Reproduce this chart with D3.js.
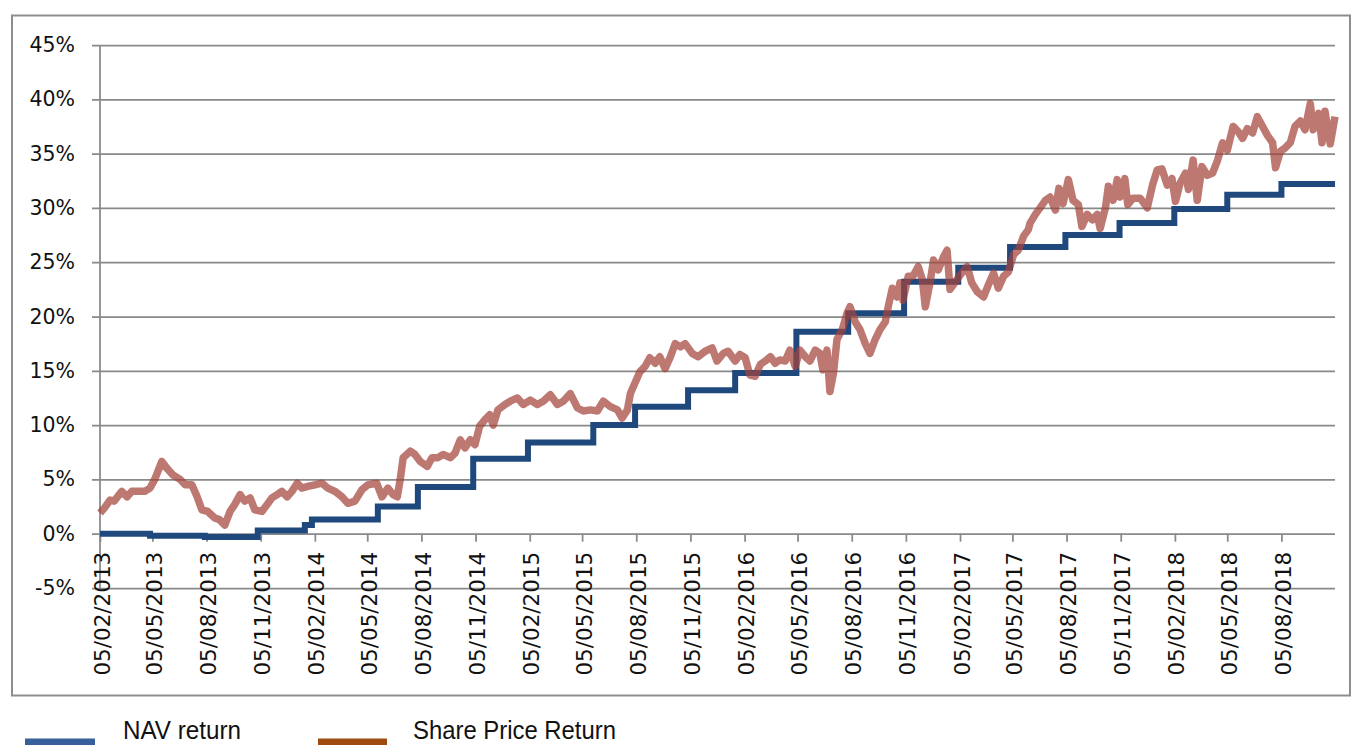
<!DOCTYPE html>
<html>
<head>
<meta charset="utf-8">
<script src="https://cdn.jsdelivr.net/npm/d3@7"></script>
<style>
  html, body { margin: 0; padding: 0; background: #fff; }
  svg { display: block; }
</style>
</head>
<body>
<svg id="chart" width="1352" height="745"></svg>
<script>
// ---------- DATA ----------
const yTickValues = [-5, 0, 5, 10, 15, 20, 25, 30, 35, 40, 45];

const xTickDates = [
  "2013-02-05","2013-05-05","2013-08-05","2013-11-05",
  "2014-02-05","2014-05-05","2014-08-05","2014-11-05",
  "2015-02-05","2015-05-05","2015-08-05","2015-11-05",
  "2016-02-05","2016-05-05","2016-08-05","2016-11-05",
  "2017-02-05","2017-05-05","2017-08-05","2017-11-05",
  "2018-02-05","2018-05-05","2018-08-05"
];

const seriesNames = ["NAV return", "Share Price Return"];

const navDates = [
  "2013-02-05","2013-05-01","2013-08-02","2013-10-31","2014-01-19","2014-01-31",
  "2014-05-23","2014-07-30","2014-11-01","2015-02-02","2015-05-24","2015-08-03",
  "2015-11-01","2016-01-20","2016-05-03","2016-07-30","2016-11-02","2017-02-02",
  "2017-05-01","2017-08-03","2017-11-03","2018-02-04","2018-05-05","2018-08-05",
  "2018-11-04"
];
const navValues = [
  0.0, -0.2, -0.3, 0.3, 0.8, 1.3,
  2.5, 4.3, 6.9, 8.4, 10.0, 11.7,
  13.2, 14.8, 18.6, 20.3, 23.2, 24.5,
  26.4, 27.5, 28.6, 29.9, 31.2, 32.2,
  32.2
];

const shareDates = [
  "2013-02-05","2013-02-13","2013-02-22","2013-03-01","2013-03-14","2013-03-23","2013-03-31","2013-04-10","2013-04-22",
  "2013-05-01","2013-05-09","2013-05-21","2013-05-30","2013-06-09","2013-06-21","2013-06-30","2013-07-11","2013-07-20",
  "2013-07-28","2013-08-07","2013-08-19","2013-08-27","2013-09-05","2013-09-14","2013-09-22","2013-10-01","2013-10-09",
  "2013-10-18","2013-10-26","2013-11-07","2013-11-16","2013-11-24","2013-12-03","2013-12-11","2013-12-20","2013-12-28",
  "2014-01-06","2014-01-14","2014-01-24","2014-02-05","2014-02-17","2014-02-27","2014-03-11","2014-03-23","2014-04-02",
  "2014-04-14","2014-04-26","2014-05-06","2014-05-21","2014-05-30","2014-06-09","2014-06-18","2014-06-25","2014-06-30",
  "2014-07-05","2014-07-17","2014-07-25","2014-08-03","2014-08-15","2014-08-23","2014-09-02","2014-09-11","2014-09-23",
  "2014-10-01","2014-10-10","2014-10-18","2014-10-27","2014-11-04","2014-11-12","2014-11-21","2014-11-29","2014-12-05",
  "2014-12-13","2014-12-25","2015-01-03","2015-01-15","2015-01-25","2015-02-06","2015-02-18","2015-02-28","2015-03-12",
  "2015-03-24","2015-04-03","2015-04-15","2015-04-27","2015-05-07","2015-05-19","2015-05-31","2015-06-10","2015-06-22",
  "2015-07-04","2015-07-12","2015-07-21","2015-07-26","2015-08-03","2015-08-11","2015-08-20","2015-08-28","2015-09-06",
  "2015-09-14","2015-09-23","2015-10-02","2015-10-10","2015-10-19","2015-10-27","2015-11-08","2015-11-18","2015-11-30",
  "2015-12-12","2015-12-20","2015-12-31","2016-01-08","2016-01-20","2016-01-28","2016-02-06","2016-02-14","2016-02-23",
  "2016-03-03","2016-03-11","2016-03-20","2016-03-28","2016-04-05","2016-04-14","2016-04-22","2016-05-01","2016-05-09",
  "2016-05-18","2016-05-26","2016-06-04","2016-06-12","2016-06-17","2016-06-24","2016-06-29","2016-07-05","2016-07-11",
  "2016-07-20","2016-07-28","2016-08-02","2016-08-11","2016-08-19","2016-08-28","2016-09-05","2016-09-14","2016-09-22",
  "2016-10-01","2016-10-06","2016-10-13","2016-10-21","2016-10-26","2016-10-31","2016-11-09","2016-11-17","2016-11-26",
  "2016-12-03","2016-12-08","2016-12-16","2016-12-22","2016-12-30","2017-01-08","2017-01-14","2017-01-19","2017-01-28",
  "2017-02-05","2017-02-17","2017-02-25","2017-03-06","2017-03-17","2017-03-25","2017-04-03","2017-04-11","2017-04-20",
  "2017-04-28","2017-05-07","2017-05-15","2017-05-24","2017-06-01","2017-06-04","2017-06-13","2017-06-21","2017-06-30",
  "2017-07-08","2017-07-17","2017-07-23","2017-07-30","2017-08-08","2017-08-16","2017-08-25","2017-08-31","2017-09-09",
  "2017-09-18","2017-09-26","2017-10-01","2017-10-10","2017-10-15","2017-10-23","2017-10-30","2017-11-04","2017-11-12",
  "2017-11-17","2017-11-26","2017-12-08","2017-12-20","2017-12-29","2018-01-06","2018-01-14","2018-01-23","2018-01-31",
  "2018-02-06","2018-02-14","2018-02-23","2018-02-28","2018-03-08","2018-03-15","2018-03-23","2018-04-01","2018-04-10",
  "2018-04-18","2018-04-27","2018-05-05","2018-05-15","2018-05-24","2018-05-31","2018-06-08","2018-06-17","2018-06-25",
  "2018-07-04","2018-07-12","2018-07-21","2018-07-26","2018-08-03","2018-08-11","2018-08-20","2018-08-28","2018-09-06",
  "2018-09-14","2018-09-23","2018-09-28","2018-10-07","2018-10-13","2018-10-18","2018-10-27","2018-11-04"
];
const shareValues = [
  1.9, 2.4, 3.1, 3.0, 3.9, 3.4, 3.9, 3.9, 3.9,
  4.2, 5.0, 6.65, 6.0, 5.4, 5.0, 4.5, 4.5, 3.4,
  2.2, 2.05, 1.45, 1.3, 0.8, 2.05, 2.7, 3.6, 3.0,
  3.3, 2.2, 2.05, 2.7, 3.3, 3.6, 3.9, 3.4, 3.9,
  4.65, 4.2, 4.35, 4.5, 4.65, 4.2, 3.9, 3.4, 2.8,
  3.0, 4.05, 4.5, 4.65, 3.4, 4.2, 3.6, 3.4, 5.0,
  7.0, 7.6, 7.3, 6.65, 6.2, 7.0, 7.0, 7.3, 7.0,
  7.4, 8.65, 7.9, 8.65, 8.2, 9.9, 10.5, 10.95, 10.0,
  11.4, 11.9, 12.2, 12.5, 11.9, 12.3, 11.9, 12.2, 12.8,
  11.9, 12.2, 12.9, 11.6, 11.3, 11.4, 11.3, 12.2, 11.7,
  11.4, 10.65, 11.4, 12.9, 13.9, 14.9, 15.4, 16.2, 15.7,
  16.3, 15.2, 16.3, 17.5, 17.2, 17.5, 16.6, 16.3, 16.8,
  17.1, 15.9, 16.6, 16.8, 15.9, 16.5, 16.2, 14.6, 14.5,
  15.6, 15.9, 16.3, 15.7, 16.0, 15.9, 16.9, 15.4, 16.9,
  16.3, 15.9, 16.9, 16.6, 15.1, 16.9, 13.1, 14.8, 17.9,
  18.8, 20.3, 20.9, 19.5, 18.8, 17.5, 16.6, 17.9, 18.8,
  19.5, 20.9, 22.6, 21.8, 23.1, 21.5, 23.7, 23.7, 24.6,
  23.4, 20.9, 23.1, 25.2, 24.3, 25.5, 26.1, 22.5, 23.2,
  23.8, 24.6, 23.1, 22.3, 21.8, 22.9, 24.0, 22.6, 23.7,
  24.1, 25.7, 26.1, 27.4, 28.0, 28.6, 29.4, 30.0, 30.7,
  31.0, 29.8, 31.8, 30.4, 32.6, 30.7, 30.3, 28.3, 29.4,
  28.9, 29.4, 28.1, 30.0, 32.0, 30.7, 32.6, 31.0, 32.7,
  30.3, 30.9, 30.9, 30.0, 32.1, 33.5, 33.6, 32.1, 32.7,
  30.6, 32.3, 33.2, 31.7, 34.4, 30.7, 33.8, 33.0, 33.2,
  34.3, 36.0, 35.3, 37.5, 37.0, 36.4, 37.3, 36.9, 38.4,
  37.5, 36.7, 36.0, 33.7, 35.2, 35.5, 36.0, 37.5, 38.0,
  37.2, 39.6, 37.2, 38.7, 36.0, 38.9, 35.9, 38.4
];

// ---------- CHART ----------
const parse = d3.timeParse("%Y-%m-%d");
const fmt = d3.timeFormat("%d/%m/%Y");

const svg = d3.select("#chart");
const W = 1352, H = 745;
const plot = { left: 100, right: 1335, top: 45, bottom: 588 };

svg.append("rect").attr("x", 0).attr("y", 0).attr("width", W).attr("height", H).attr("fill", "#fff");

// outer frame
svg.append("rect")
  .attr("x", 12).attr("y", 15.5)
  .attr("width", 1338).attr("height", 680)
  .attr("fill", "none").attr("stroke", "#8e8e8e").attr("stroke-width", 2);

const x = d3.scaleTime()
  .domain([parse(shareDates[0]), parse(shareDates[shareDates.length - 1])])
  .range([plot.left, plot.right]);
const y = d3.scaleLinear().domain([-5, 45]).range([plot.bottom, plot.top]);

const gridColor = "#898989";

// y gridlines + labels
const yAxis = svg.append("g")
  .attr("transform", `translate(${plot.right},0)`)
  .call(d3.axisLeft(y).tickValues(yTickValues)
        .tickSize(plot.right - 92).tickPadding(17)
        .tickFormat(d => d + "%"));
yAxis.select(".domain").remove();
yAxis.selectAll(".tick line").attr("stroke", gridColor).attr("stroke-width", 1.75);
yAxis.selectAll(".tick text")
  .attr("fill", "#111")
  .style("font-family", "'DejaVu Sans', Verdana, sans-serif")
  .style("font-size", "20.5px");

// y axis vertical line
svg.append("line")
  .attr("x1", plot.left).attr("x2", plot.left)
  .attr("y1", y(45)).attr("y2", y(-5))
  .attr("stroke", gridColor).attr("stroke-width", 1.75);

// x axis at 0%
const xAxis = svg.append("g")
  .attr("transform", `translate(0,${y(0)})`)
  .call(d3.axisBottom(x).tickValues(xTickDates.map(parse))
        .tickSize(8).tickFormat(fmt));
xAxis.select(".domain").remove();
xAxis.selectAll(".tick line").attr("stroke", gridColor).attr("stroke-width", 1.75);
xAxis.selectAll(".tick text")
  .attr("fill", "#111")
  .attr("transform", "rotate(-90)")
  .attr("x", -18).attr("y", 0).attr("dy", "0.42em")
  .style("text-anchor", "end")
  .style("font-family", "'DejaVu Sans', Verdana, sans-serif")
  .style("font-size", "21.5px");

// NAV line
const navData = navDates.map((d, i) => ({ date: parse(d), value: navValues[i] }));
svg.append("path")
  .datum(navData)
  .attr("fill", "none")
  .attr("stroke", "#1f497d")
  .attr("stroke-width", 6)
  .attr("d", d3.line().curve(d3.curveStepAfter).x(d => x(d.date)).y(d => y(d.value)));

// Share price line
const shareData = shareDates.map((d, i) => ({ date: parse(d), value: shareValues[i] }));
svg.append("path")
  .datum(shareData)
  .attr("fill", "none")
  .attr("stroke", "#a5443c")
  .attr("stroke-opacity", 0.72)
  .attr("stroke-width", 7.5)
  .attr("stroke-linejoin", "round")
  .attr("d", d3.line().x(d => x(d.date)).y(d => y(d.value)));

// Legend
const legendItems = [
  { name: seriesNames[0], color: "#37609a", x0: 25, x1: 95, tx: 123, tw: 118 },
  { name: seriesNames[1], color: "#9e4a10", x0: 318, x1: 387, tx: 413, tw: 203 }
];
const lg = svg.append("g");
legendItems.forEach(it => {
  lg.append("line")
    .attr("x1", it.x0).attr("x2", it.x1)
    .attr("y1", 742).attr("y2", 742)
    .attr("stroke", it.color).attr("stroke-width", 7);
  lg.append("text")
    .attr("x", it.tx).attr("y", 739)
    .attr("textLength", it.tw).attr("lengthAdjust", "spacingAndGlyphs")
    .attr("fill", "#111")
    .style("font-family", "'Liberation Sans Narrow', 'Arial Narrow', 'Liberation Sans', Arial, sans-serif")
    .style("font-size", "26px")
    .text(it.name);
});
</script>
</body>
</html>
